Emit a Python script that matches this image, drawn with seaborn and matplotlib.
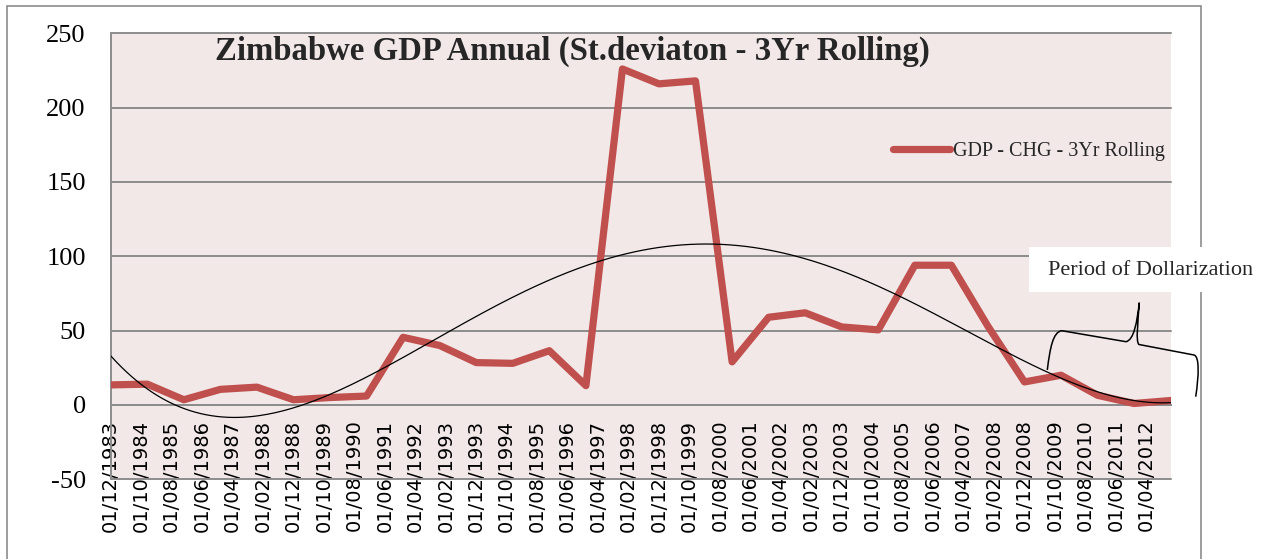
import numpy as np
import pandas as pd
import matplotlib
matplotlib.use("Agg")
import matplotlib.pyplot as plt
import matplotlib.dates as mdates
from matplotlib.patches import Rectangle, PathPatch
from matplotlib.path import Path
import seaborn as sns

# Annual 3-year rolling standard deviation of GDP change (one value per December)
years = list(range(1983, 2013))
gdp_chg_std = [13.5, 14, 3.5, 10.5, 12, 3.5, 5, 6, 45.5, 40,
               28.5, 28, 36.5, 13, 226, 216, 218, 29, 59, 62,
               52.5, 50.5, 94, 94, 53, 15.5, 20, 6.5, 1, 3]

series_label = "GDP - CHG - 3Yr Rolling"
title_text = "Zimbabwe GDP Annual (St.deviaton - 3Yr Rolling)"
note_text = "Period of Dollarization"

tick_labels = ["01/12/1983", "01/10/1984", "01/08/1985", "01/06/1986", "01/04/1987",
               "01/02/1988", "01/12/1988", "01/10/1989", "01/08/1990", "01/06/1991",
               "01/04/1992", "01/02/1993", "01/12/1993", "01/10/1994", "01/08/1995",
               "01/06/1996", "01/04/1997", "01/02/1998", "01/12/1998", "01/10/1999",
               "01/08/2000", "01/06/2001", "01/04/2002", "01/02/2003", "01/12/2003",
               "01/10/2004", "01/08/2005", "01/06/2006", "01/04/2007", "01/02/2008",
               "01/12/2008", "01/10/2009", "01/08/2010", "01/06/2011", "01/04/2012"]
y_ticks = [-50, 0, 50, 100, 150, 200, 250]

RED = "#C0504D"
GRID = "#8C8C8C"
PANEL = "#F2E8E8"

df = pd.DataFrame({
    "date": pd.to_datetime([f"{y}-12-01" for y in years]),
    "value": gdp_chg_std,
})
tick_dates = pd.to_datetime(tick_labels, format="%d/%m/%Y")

# polynomial trend fitted to the series
xnum = mdates.date2num(df["date"])
x0 = xnum[0]
coef = np.polyfit((xnum - x0) / 365.25, df["value"], 4)
xf = np.linspace(xnum[0], xnum[-1], 400)
trend = pd.DataFrame({
    "date": mdates.num2date(xf),
    "value": np.polyval(coef, (xf - x0) / 365.25),
})
trend["date"] = pd.to_datetime(trend["date"]).dt.tz_localize(None)

sns.set_style("white")
plt.rcParams["font.family"] = ["DejaVu Sans"]
plt.rcParams["lines.solid_capstyle"] = "round"
plt.rcParams["lines.solid_joinstyle"] = "round"

W, H = 1267, 559
fig = plt.figure(figsize=(W / 100, H / 100), dpi=100)
fig.patch.set_facecolor("white")


def fx(px):
    return px / W


def fy(py):
    return 1 - py / H


ax_left, ax_right, ax_top, ax_bottom = 110.7, 1170.7, 33.3, 479.3
ax = fig.add_axes([fx(ax_left), fy(ax_bottom), fx(ax_right - ax_left),
                   (ax_bottom - ax_top) / H])
ax.set_facecolor(PANEL)

sns.lineplot(data=df, x="date", y="value", color=RED, linewidth=5.2,
             label=series_label, ax=ax, zorder=3)
sns.lineplot(data=trend, x="date", y="value", color="black", linewidth=0.9,
             ax=ax, zorder=4, legend=False)

ax.set_xlim(df["date"].iloc[0], df["date"].iloc[-1])
ax.set_ylim(y_ticks[0], y_ticks[-1])
ax.set_yticks(y_ticks)
ax.set_yticklabels([str(v) for v in y_ticks])
ax.set_xticks(tick_dates)
ax.set_xticklabels(tick_labels)
ax.set_xlabel("")
ax.set_ylabel("")

ax.yaxis.grid(True, color=GRID, linewidth=1.4)
ax.xaxis.grid(False)
for gl in ax.get_ygridlines():
    gl.set_clip_on(False)
ax.set_axisbelow(True)

for side in ("top", "right"):
    ax.spines[side].set_visible(False)
ax.spines["bottom"].set_position(("data", 0))
for side in ("left", "bottom"):
    ax.spines[side].set_color(GRID)
    ax.spines[side].set_linewidth(1.4)

ax.tick_params(axis="x", direction="out", length=5, width=1.2, color=GRID,
               pad=5.5, labelsize=14, labelrotation=90, labelcolor="black")
ax.tick_params(axis="y", direction="out", length=6, width=1.2, color=GRID,
               pad=12, labelsize=19, labelcolor="black")
for lbl in ax.get_yticklabels():
    lbl.set_fontfamily("Liberation Serif")
for lbl in ax.get_xticklabels():
    lbl.set_fontfamily("DejaVu Sans")

leg = ax.legend(loc="center left", bbox_to_anchor=(fx(893), fy(151.7)),
                bbox_transform=fig.transFigure, frameon=False, borderpad=0,
                borderaxespad=0, handlelength=2.85, handletextpad=0.15,
                prop={"family": "Liberation Serif", "size": 14.5})
for h in leg.get_lines():
    h.set_linewidth(5.2)
    h.set_solid_capstyle("round")

fig.text(fx(215), fy(59.3), title_text, ha="left", va="baseline",
         fontsize=23.6, fontweight="bold", family="Liberation Serif")

# outer chart frame
fig.patches.append(Rectangle((fx(7), fy(575)), fx(1201 - 7), (575 - 6) / H,
                             transform=fig.transFigure, fill=False,
                             edgecolor=GRID, linewidth=1.2, zorder=1))

# note box and brace
fig.patches.append(Rectangle((fx(1029), fy(291.7)), fx(260), 45 / H,
                             transform=fig.transFigure, facecolor="white",
                             edgecolor="none", zorder=5))
fig.text(fx(1048), fy(270), note_text, ha="left", va="center",
         fontsize=16, family="Liberation Serif", zorder=6)

brace_px = [
    ((1047.3, 370.0), Path.MOVETO),
    ((1050.0, 348.0), Path.CURVE4), ((1053.0, 332.0), Path.CURVE4), ((1061.7, 330.7), Path.CURVE4),
    ((1126.0, 341.7), Path.LINETO),
    ((1134.0, 340.0), Path.CURVE4), ((1137.0, 322.0), Path.CURVE4), ((1139.3, 302.7), Path.CURVE4),
    ((1138.0, 322.0), Path.CURVE4), ((1135.5, 342.0), Path.CURVE4), ((1139.0, 344.5), Path.CURVE4),
    ((1194.0, 355.0), Path.LINETO),
    ((1199.5, 356.5), Path.CURVE4), ((1199.0, 375.0), Path.CURVE4), ((1195.7, 396.7), Path.CURVE4),
]
verts = [(fx(p[0]), fy(p[1])) for p, _ in brace_px]
codes = [c for _, c in brace_px]
fig.patches.append(PathPatch(Path(verts, codes), transform=fig.transFigure,
                             fill=False, edgecolor="black", linewidth=1.1,
                             zorder=7))

fig.savefig("out.png", dpi=100)
